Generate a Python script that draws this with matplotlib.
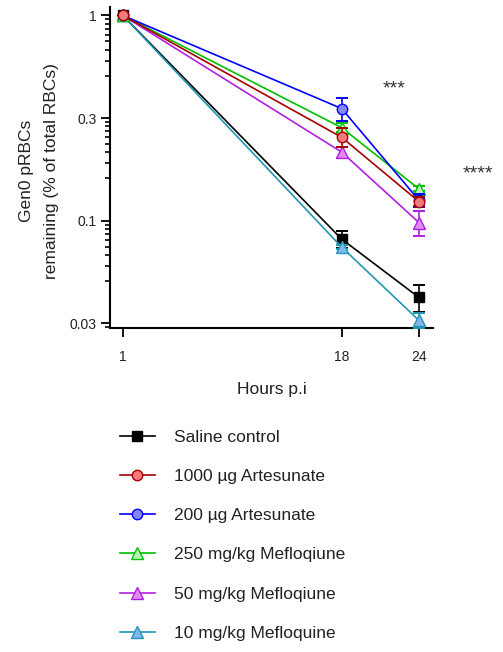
import numpy as np
import matplotlib.pyplot as plt
from matplotlib.ticker import FixedLocator, FixedFormatter, NullFormatter

plt.rcParams['font.family'] = ['Liberation Sans', 'DejaVu Sans']

# data (fraction of Gen0 pRBCs remaining)
hours = [1, 18, 24]
labels = ['Saline control', '1000 µg Artesunate', '200 µg Artesunate',
          '250 mg/kg Mefloqiune', '50 mg/kg Mefloqiune', '10 mg/kg Mefloquine']

saline = [1.0, 0.0814, 0.0423]
saline_err = [0, 0.0075, 0.0064]
art1000 = [1.0, 0.255, 0.124]
art1000_err = [0, 0.027, 0.006]
art200 = [1.0, 0.352, 0.126]
art200_err = [0, 0.045, 0.009]
mef250 = [1.0, 0.284, 0.143]
mef250_err = [0, 0.014, 0.004]
mef50 = [1.0, 0.216, 0.098]
mef50_err = [0, 0.013, 0.014]
mef10 = [1.0, 0.0744, 0.0327]
mef10_err = [0, 0.002, 0.0027]

# styles: (line colour, face colour, marker)
styles = [('#000000', '#000000', 's'),
          ('#a80000', '#f27b7b', 'o'),
          ('#0000ff', '#8585ff', 'o'),
          ('#00c000', '#b8f5b8', '^'),
          ('#b020e0', '#e28af2', '^'),
          ('#1f98b4', '#86b4ee', '^')]

series = [(saline, saline_err), (art1000, art1000_err), (art200, art200_err),
          (mef250, mef250_err), (mef50, mef50_err), (mef10, mef10_err)]

fig = plt.figure(figsize=(5.03, 6.52), dpi=100)
ax = fig.add_axes([110 / 503, 1 - 328 / 652, 323 / 503, 321 / 652])

# draw order so the red circle ends up on top
draw_order = [0, 5, 4, 3, 2, 1]
handles = [None] * 6
for z, i in enumerate(draw_order):
    vals, err = series[i]
    lc, fc, mk = styles[i]
    ms = 7.5 if mk != '^' else 8
    ax.errorbar(hours, vals, yerr=err, fmt='none', ecolor=lc, elinewidth=1.2,
                capsize=4.5, capthick=1.4, zorder=2 + z)
    h, = ax.plot(hours, vals, color=lc, lw=1.2, marker=mk, ms=ms,
                 mfc=fc, mec=lc, mew=1.0, zorder=2.5 + z, clip_on=False)
    handles[i] = h

ax.set_yscale('log')
ax.set_ylim(0.03, 1.1)
ax.set_xlim(0, 25.1)

# Prism-style log axis: majors every half decade
major_exp = [0, -0.5, -1, -1.5]
ax.yaxis.set_major_locator(FixedLocator([10 ** e for e in major_exp]))
ax.yaxis.set_major_formatter(FixedFormatter(['1', '0.3', '0.1', '0.03']))
minor = []
for e in major_exp:
    for k in range(2, 10):
        minor.append(10 ** (e - 0.42 * (1 - np.log10(k))))
ax.yaxis.set_minor_locator(FixedLocator(minor))
ax.yaxis.set_minor_formatter(NullFormatter())

ax.set_xticks(hours)
ax.set_xticklabels([str(h) for h in hours])

for side in ['top', 'right']:
    ax.spines[side].set_visible(False)
for side in ['left', 'bottom']:
    ax.spines[side].set_linewidth(1.5)

ax.tick_params(axis='y', which='major', length=6.5, width=1.3, pad=3,
               labelsize=10)
ax.tick_params(axis='y', which='minor', length=3.5, width=1.2)
ax.tick_params(axis='x', which='major', length=6.5, width=1.3, pad=9,
               labelsize=10)
ax.tick_params(axis='both', colors='black', labelcolor='#222222')

ax.set_xlabel('Hours p.i', fontsize=12.5, labelpad=13, color='#222222')
fig.text(39 / 503, 1 - 171 / 652, 'Gen0 pRBCs\nremaining (% of total RBCs)',
         rotation=90, ha='center', va='center', ma='center', fontsize=12.5,
         linespacing=1.8, color='#222222')

# significance stars
ax.text(22.1, 0.44, '***', fontsize=14, ha='center', va='center', color='#333333')
ax.text(28.6, 0.168, '****', fontsize=14, ha='center', va='center',
        color='#333333', clip_on=False)

fig.legend(handles, labels, loc='upper left',
           bbox_to_anchor=(120 / 503, 1 - 430 / 652), frameon=False,
           fontsize=12.5, handlelength=2.0, handletextpad=1.1,
           labelspacing=1.38, borderpad=0, borderaxespad=0,
           labelcolor='#222222')

fig.savefig('out.png', dpi=100)
